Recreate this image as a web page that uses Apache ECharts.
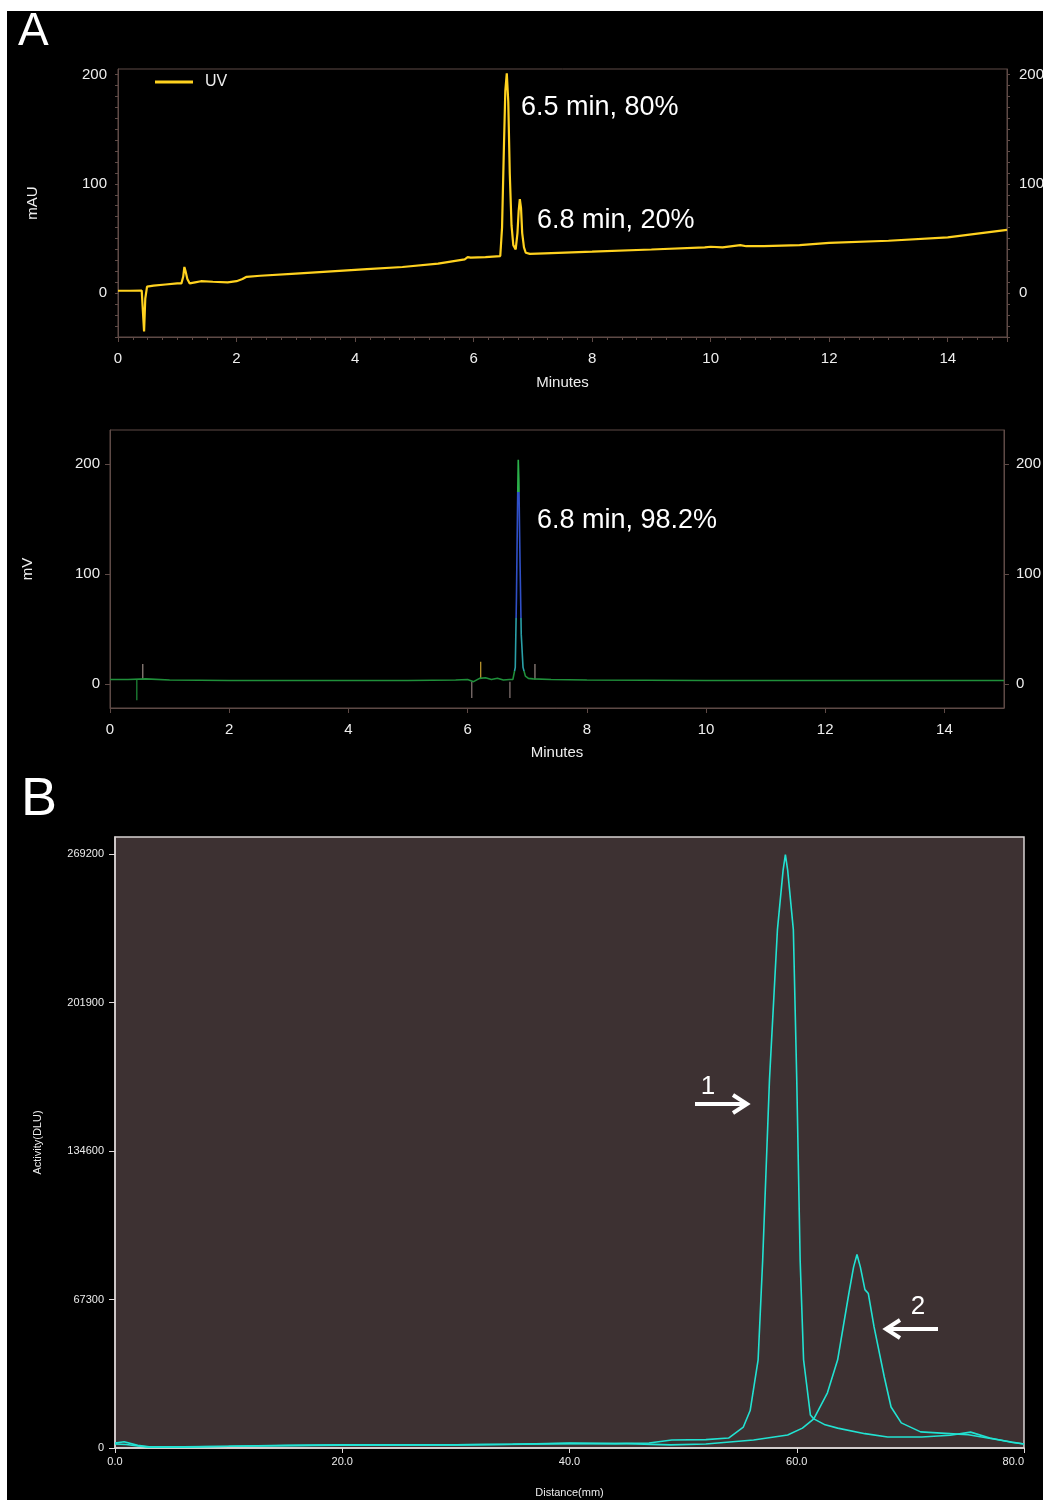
<!DOCTYPE html>
<html><head><meta charset="utf-8">
<script src="https://cdn.jsdelivr.net/npm/echarts@6/dist/echarts.min.js"></script>
<style>
html,body{margin:0;padding:0;background:#fff;width:1043px;height:1500px;overflow:hidden}
#c{position:absolute;left:7px;top:11px;width:1036px;height:1489px;}
</style>
</head><body><div id="c"></div>
<script>
// ---------- Panel A (top): UV chromatogram ----------
const uvTime = [0, 0.2, 0.4, 0.42, 0.44, 0.46, 0.49, 0.52, 0.6, 0.8, 1.0, 1.07, 1.1, 1.12, 1.14, 1.17, 1.21, 1.3, 1.4, 1.6, 1.85, 2.0, 2.1, 2.17, 2.4, 3.0, 3.6, 4.2, 4.8, 5.4, 5.85, 5.9, 5.95, 6.2, 6.45, 6.48, 6.51, 6.535, 6.56, 6.585, 6.61, 6.64, 6.67, 6.71, 6.74, 6.76, 6.78, 6.8, 6.82, 6.85, 6.88, 6.95, 7.2, 8, 9, 9.9, 10.0, 10.2, 10.5, 10.6, 10.9, 11.5, 12, 13, 14, 15];
const uvSignal = [2.3, 2.3, 2.5, 2, -35, -5, 6, 7.5, 7, 8, 9, 9, 15, 24, 20, 13, 9, 10, 11, 10.5, 10, 11, 13, 15, 16, 18, 20, 22, 24, 27, 31, 33, 32.5, 33, 34, 60, 130, 185, 201, 175, 110, 62, 44, 40, 55, 75, 86, 78, 55, 42, 37, 36, 36.5, 38, 40, 42, 42.5, 42, 44, 43, 43, 44, 46, 48, 51, 58];
const uvTickLabels = [0, 100, 200];
const uvPeakTexts = ['6.5 min, 80%', '6.8 min, 20%'];

// ---------- Panel A (bottom): radio trace ----------
const radTime = [0, 0.3, 0.6, 1, 2, 3, 4, 5, 5.8, 6.0, 6.1, 6.2, 6.3, 6.4, 6.5, 6.6, 6.7, 6.76, 6.8, 6.82, 6.84, 6.85, 6.86, 6.88, 6.9, 6.93, 6.97, 7.02, 7.1, 7.4, 8, 10, 12, 14, 15];
const radSignal = [4, 4, 4.5, 3.5, 3, 3, 3, 3, 3.5, 4, 2, 5, 5.5, 4, 5, 3.5, 4, 4, 15, 80, 170, 204, 185, 110, 45, 15, 7, 5, 4.5, 4, 3.5, 3, 3, 3, 3];
const spikeTime = [0.45, 0.55, 6.07, 6.22, 6.71, 7.13];
const spikeFrom = [4, 4, 2, 5, 2, 4];
const spikeTo = [-15, 18, -13, 20, -13, 18];
const radTickLabels = [0, 100, 200];
const radPeakText = '6.8 min, 98.2%';

// ---------- Panel B: radio-TLC ----------
const tlc1Dist = [0, 0.8, 2, 3, 6, 10, 15, 20, 25, 30, 35, 40, 44, 47, 49, 52, 54, 55.3, 55.9, 56.6, 57.0, 57.6, 58.3, 58.8, 59.0, 59.2, 59.7, 60.0, 60.3, 60.6, 61.2, 61.5, 62.5, 63.6, 66, 68, 71, 73.5, 75.3, 77, 79, 80];
const tlc1Act = [2200, 2800, 1200, 500, 500, 800, 1200, 1400, 1500, 1400, 1700, 2200, 2000, 2300, 3600, 3800, 4500, 9500, 17000, 40000, 85000, 167000, 235000, 262000, 269000, 262000, 235000, 167000, 85000, 40000, 15000, 13200, 10500, 9000, 6500, 5000, 5000, 5800, 7200, 4500, 2500, 1800];
const tlc2Dist = [0, 1, 2, 3, 6, 10, 20, 30, 40, 45, 48.9, 52, 56.2, 59.2, 60.5, 61.5, 62.7, 63.6, 64.6, 65.0, 65.3, 65.6, 66.0, 66.3, 66.8, 67.7, 68.3, 69.2, 70.9, 73.8, 75.1, 76.8, 78.9, 80];
const tlc2Act = [1800, 1600, 900, 400, 400, 800, 1300, 1400, 2000, 2000, 1400, 1800, 3600, 5900, 9000, 13200, 25000, 40000, 70500, 82000, 87700, 82000, 71800, 70000, 55000, 32300, 18600, 11400, 7300, 6400, 6000, 4500, 2700, 1800];
const tlcYTicks = [0, 67300, 134600, 201900, 269200];
const tlcXTicks = [0, 20, 40, 60, 80];
const tlcArrowLabels = ['1', '2'];

// ---------- layout / style ----------
const OX = 7, OY = 11;
const P = (x, y) => [x - OX, y - OY];
const FONT = "'Liberation Sans', Arial, sans-serif";
const txt = '#eeeeee';
const borderA = '#5e4a46';
const zip = (a, b) => a.map((v, i) => [v, b[i]]);
const spikeColor = ['#1f8f3a', '#9a8a84', '#8a7a78', '#c8a030', '#8a7a78', '#9a8a84'];

const chart = echarts.init(document.getElementById('c'), null, {renderer: 'canvas'});

const axisA = (extra) => Object.assign({
  axisLine: {show: true, onZero: false, lineStyle: {color: borderA, width: 1}},
  splitLine: {show: false},
  axisLabel: {color: txt, fontSize: 15, fontFamily: FONT},
  nameTextStyle: {color: txt, fontSize: 15, fontFamily: FONT}
}, extra);

const gridBase = {show: true, outerBoundsMode: 'none', containLabel: false};

const option = {
  animation: false,
  backgroundColor: '#000',
  grid: [
    Object.assign({left: 118 - OX, top: 69 - OY, width: 889, height: 268, borderColor: borderA, borderWidth: 1, backgroundColor: 'transparent'}, gridBase),
    Object.assign({left: 110 - OX, top: 430 - OY, width: 894, height: 278, borderColor: borderA, borderWidth: 1, backgroundColor: 'transparent'}, gridBase),
    Object.assign({left: 115 - OX, top: 837 - OY, width: 909, height: 611, borderColor: '#d8d2d2', borderWidth: 1.5, backgroundColor: '#3d3132'}, gridBase)
  ],
  legend: {
    show: true, left: 155 - OX, top: 74 - OY, padding: 0, itemWidth: 38, itemHeight: 3,
    data: [{name: 'UV', icon: 'rect', itemStyle: {color: '#ffd21f'}}],
    textStyle: {color: txt, fontSize: 16, fontFamily: FONT, padding: [0, 0, 0, 7]}
  },
  xAxis: [
    axisA({gridIndex: 0, type: 'value', min: 0, max: 15, interval: 2,
      axisTick: {show: true, length: 5, inside: false, lineStyle: {color: borderA}},
      minorTick: {show: true, splitNumber: 8, length: 3, lineStyle: {color: borderA}},
      axisLabel: {color: txt, fontSize: 15, fontFamily: FONT, margin: 14, showMaxLabel: false},
      name: 'Minutes', nameLocation: 'middle', nameGap: 38}),
    axisA({gridIndex: 1, type: 'value', min: 0, max: 15, interval: 2,
      axisTick: {show: true, length: 5, lineStyle: {color: borderA}},
      axisLabel: {color: txt, fontSize: 15, fontFamily: FONT, margin: 14, showMaxLabel: false},
      name: 'Minutes', nameLocation: 'middle', nameGap: 37}),
    {gridIndex: 2, type: 'value', min: 0, max: 80, interval: 20,
      axisLine: {show: true, onZero: false, lineStyle: {color: '#e0dada', width: 1.5}},
      axisTick: {show: true, length: 5, lineStyle: {color: '#e0dada'}},
      splitLine: {show: false},
      axisLabel: {color: '#ececec', fontSize: 11, fontFamily: FONT, margin: 8, alignMaxLabel: 'right',
        formatter: v => v.toFixed(1)},
      name: 'Distance(mm)', nameLocation: 'middle', nameGap: 39,
      nameTextStyle: {color: '#ececec', fontSize: 11, fontFamily: FONT}}
  ],
  yAxis: [
    axisA({gridIndex: 0, type: 'value', min: -40, max: 205, interval: 10, position: 'left',
      axisTick: {show: true, length: 3, lineStyle: {color: borderA}},
      axisLabel: {color: txt, fontSize: 15, fontFamily: FONT, margin: 11, showMaxLabel: false,
        formatter: v => uvTickLabels.includes(v) ? String(v) : ''},
      name: 'mAU', nameLocation: 'middle', nameGap: 78}),
    axisA({gridIndex: 0, type: 'value', min: -40, max: 205, interval: 10, position: 'right',
      axisTick: {show: true, length: 3, lineStyle: {color: borderA}},
      axisLabel: {color: txt, fontSize: 15, fontFamily: FONT, margin: 12, showMaxLabel: false,
        formatter: v => uvTickLabels.includes(v) ? String(v) : ''}}),
    axisA({gridIndex: 1, type: 'value', min: -22, max: 231, position: 'left',
      axisTick: {show: true, length: 5, customValues: radTickLabels, lineStyle: {color: borderA}},
      axisLabel: {color: txt, fontSize: 15, fontFamily: FONT, margin: 10, customValues: radTickLabels},
      name: 'mV', nameLocation: 'middle', nameGap: 75}),
    axisA({gridIndex: 1, type: 'value', min: -22, max: 231, position: 'right',
      axisTick: {show: true, length: 5, customValues: radTickLabels, lineStyle: {color: borderA}},
      axisLabel: {color: txt, fontSize: 15, fontFamily: FONT, margin: 12, customValues: radTickLabels}}),
    {gridIndex: 2, type: 'value', min: 0, max: 277000, position: 'left',
      axisLine: {show: true, onZero: false, lineStyle: {color: '#d8d2d2', width: 1.5}},
      axisTick: {show: true, length: 6, customValues: tlcYTicks, lineStyle: {color: '#e0dada'}},
      splitLine: {show: false},
      axisLabel: {color: '#ececec', fontSize: 11, fontFamily: FONT, margin: 11, customValues: tlcYTicks,
        formatter: v => String(Math.round(v))},
      name: 'Activity(DLU)', nameLocation: 'middle', nameGap: 72,
      nameTextStyle: {color: '#ececec', fontSize: 11, fontFamily: FONT}}
  ],
  visualMap: [{
    show: false, type: 'piecewise', seriesIndex: 1, dimension: 1,
    pieces: [
      {lt: 12, color: '#1f8f3a'},
      {gte: 12, lt: 60, color: '#2aa0a8'},
      {gte: 60, lt: 175, color: '#3050c8'},
      {gte: 175, color: '#2bb04a'}
    ]
  }],
  series: [
    {name: 'UV', type: 'line', xAxisIndex: 0, yAxisIndex: 0, data: zip(uvTime, uvSignal),
      showSymbol: false, lineStyle: {color: '#ffd21f', width: 2.2}, itemStyle: {color: '#ffd21f'}, z: 5},
    {name: 'Radio', type: 'line', xAxisIndex: 1, yAxisIndex: 2, data: zip(radTime, radSignal),
      showSymbol: false, lineStyle: {width: 1.6}, z: 5},
    {name: 'Markers', type: 'custom', xAxisIndex: 1, yAxisIndex: 2,
      data: spikeTime.map((t, i) => [t, spikeFrom[i], spikeTo[i]]),
      renderItem: (params, api) => {
        const a = api.coord([api.value(0), api.value(1)]);
        const b = api.coord([api.value(0), api.value(2)]);
        return {type: 'line', shape: {x1: a[0], y1: a[1], x2: b[0], y2: b[1]},
          style: {stroke: spikeColor[params.dataIndex], lineWidth: 1.2}};
      }, z: 4},
    {name: 'TLC 1', type: 'line', xAxisIndex: 2, yAxisIndex: 4, data: zip(tlc1Dist, tlc1Act),
      showSymbol: false, lineStyle: {color: '#22e2d2', width: 1.6}, z: 5},
    {name: 'TLC 2', type: 'line', xAxisIndex: 2, yAxisIndex: 4, data: zip(tlc2Dist, tlc2Act),
      showSymbol: false, lineStyle: {color: '#22e2d2', width: 1.6}, z: 5}
  ],
  graphic: [
    {type: 'text', left: P(18, 0)[0], top: P(0, 9)[1], style: {text: 'A', fill: '#fff', font: '46px ' + FONT}},
    {type: 'text', left: P(21, 0)[0], top: P(0, 773)[1], style: {text: 'B', fill: '#fff', font: '54px ' + FONT}},
    {type: 'text', x: P(521, 0)[0], y: P(0, 108)[1], style: {text: uvPeakTexts[0], fill: '#fff', font: '27px ' + FONT, verticalAlign: 'middle'}},
    {type: 'text', x: P(537, 0)[0], y: P(0, 221)[1], style: {text: uvPeakTexts[1], fill: '#fff', font: '27px ' + FONT, verticalAlign: 'middle'}},
    {type: 'text', x: P(537, 0)[0], y: P(0, 521)[1], style: {text: radPeakText, fill: '#fff', font: '27px ' + FONT, verticalAlign: 'middle'}},
    {type: 'text', x: P(708, 0)[0], y: P(0, 1087)[1], style: {text: tlcArrowLabels[0], fill: '#fff', font: '26px ' + FONT, align: 'center', verticalAlign: 'middle'}},
    {type: 'polyline', shape: {points: [P(695, 1104), P(746, 1104)]}, style: {stroke: '#fff', lineWidth: 4}},
    {type: 'polyline', shape: {points: [P(733, 1095), P(747, 1104), P(733, 1113)]}, style: {stroke: '#fff', lineWidth: 4, fill: null}},
    {type: 'text', x: P(918, 0)[0], y: P(0, 1307)[1], style: {text: tlcArrowLabels[1], fill: '#fff', font: '26px ' + FONT, align: 'center', verticalAlign: 'middle'}},
    {type: 'polyline', shape: {points: [P(938, 1329), P(887, 1329)]}, style: {stroke: '#fff', lineWidth: 4}},
    {type: 'polyline', shape: {points: [P(900, 1320), P(886, 1329), P(900, 1338)]}, style: {stroke: '#fff', lineWidth: 4, fill: null}}
  ]
};
chart.setOption(option);
</script>
</body></html>
